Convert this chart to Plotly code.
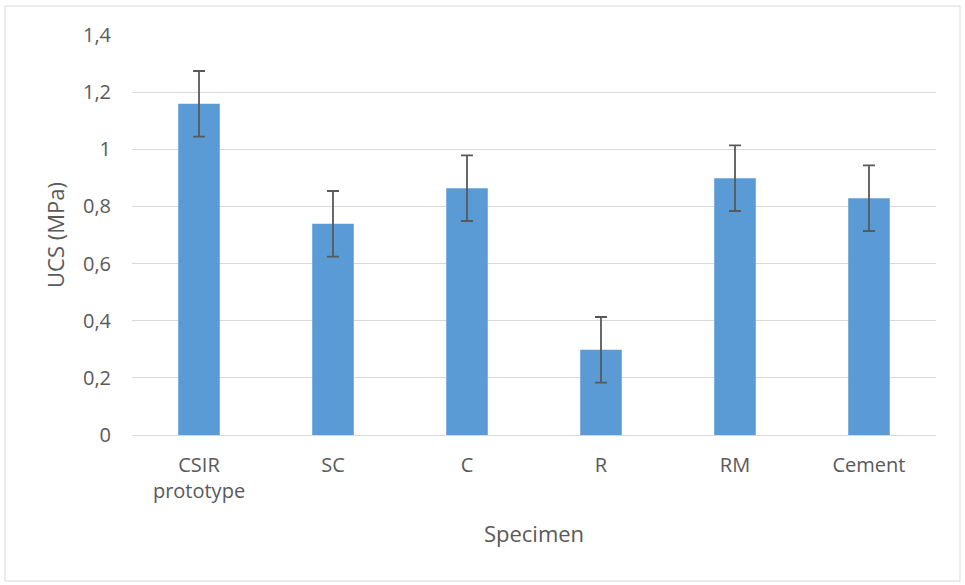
import plotly.graph_objects as go

categories = ["CSIR<br>prototype", "SC", "C", "R", "RM", "Cement"]
ucs_values = [1.159, 0.739, 0.864, 0.298, 0.899, 0.829]
ucs_errors = [0.115, 0.115, 0.115, 0.115, 0.115, 0.115]
y_tick_vals = [0, 0.2, 0.4, 0.6, 0.8, 1.0, 1.2, 1.4]
y_tick_text = ["0", "0,2", "0,4", "0,6", "0,8", "1", "1,2", "1,4"]

font_family = "Open Sans, Carlito, Calibri, sans-serif"
text_color = "#595959"

L, R, T, B = 132, 29, 35, 150
W, H = 965, 585
pw, ph = W - L - R, H - T - B

def px_x(px):
    return (px - L) / pw

def px_y(py):
    return (H - B - py) / ph

fig = go.Figure()
fig.add_trace(go.Bar(
    x=categories,
    y=ucs_values,
    marker=dict(color="#5b9bd5", line=dict(width=0)),
    width=0.31,
    error_y=dict(type="data", array=ucs_errors, visible=True,
                 color="#595959", thickness=1.8, width=6),
))

fig.update_layout(
    width=W, height=H,
    paper_bgcolor="white", plot_bgcolor="white",
    margin=dict(l=L, r=R, t=T, b=B),
    showlegend=False,
    font=dict(family=font_family, color=text_color, size=20),
    xaxis=dict(
        title=dict(text="Specimen", font=dict(size=22, color=text_color), standoff=23),
        showgrid=False, showline=True, linecolor="#d9d9d9", linewidth=1,
        ticks="", ticklabelstandoff=12, tickfont=dict(size=20, color=text_color),
    ),
    yaxis=dict(
        title=dict(text="UCS (MPa)", font=dict(size=22, color=text_color), standoff=12),
        range=[0, 1.4], tickvals=y_tick_vals, ticktext=y_tick_text,
        showgrid=True, gridcolor="#d9d9d9", gridwidth=1,
        zeroline=False, showline=False, ticks="", ticklabelstandoff=20,
        tickfont=dict(size=20, color=text_color),
    ),
    shapes=[dict(type="rect", xref="paper", yref="paper",
                 x0=px_x(5), x1=px_x(960), y0=px_y(581), y1=px_y(6),
                 line=dict(color="#d9d9d9", width=1), fillcolor="rgba(0,0,0,0)",
                 layer="below")],
)

fig.write_html("out.html", config={"displayModeBar": False},
               post_script="document.body.style.margin='0';document.body.style.overflow='hidden';")
